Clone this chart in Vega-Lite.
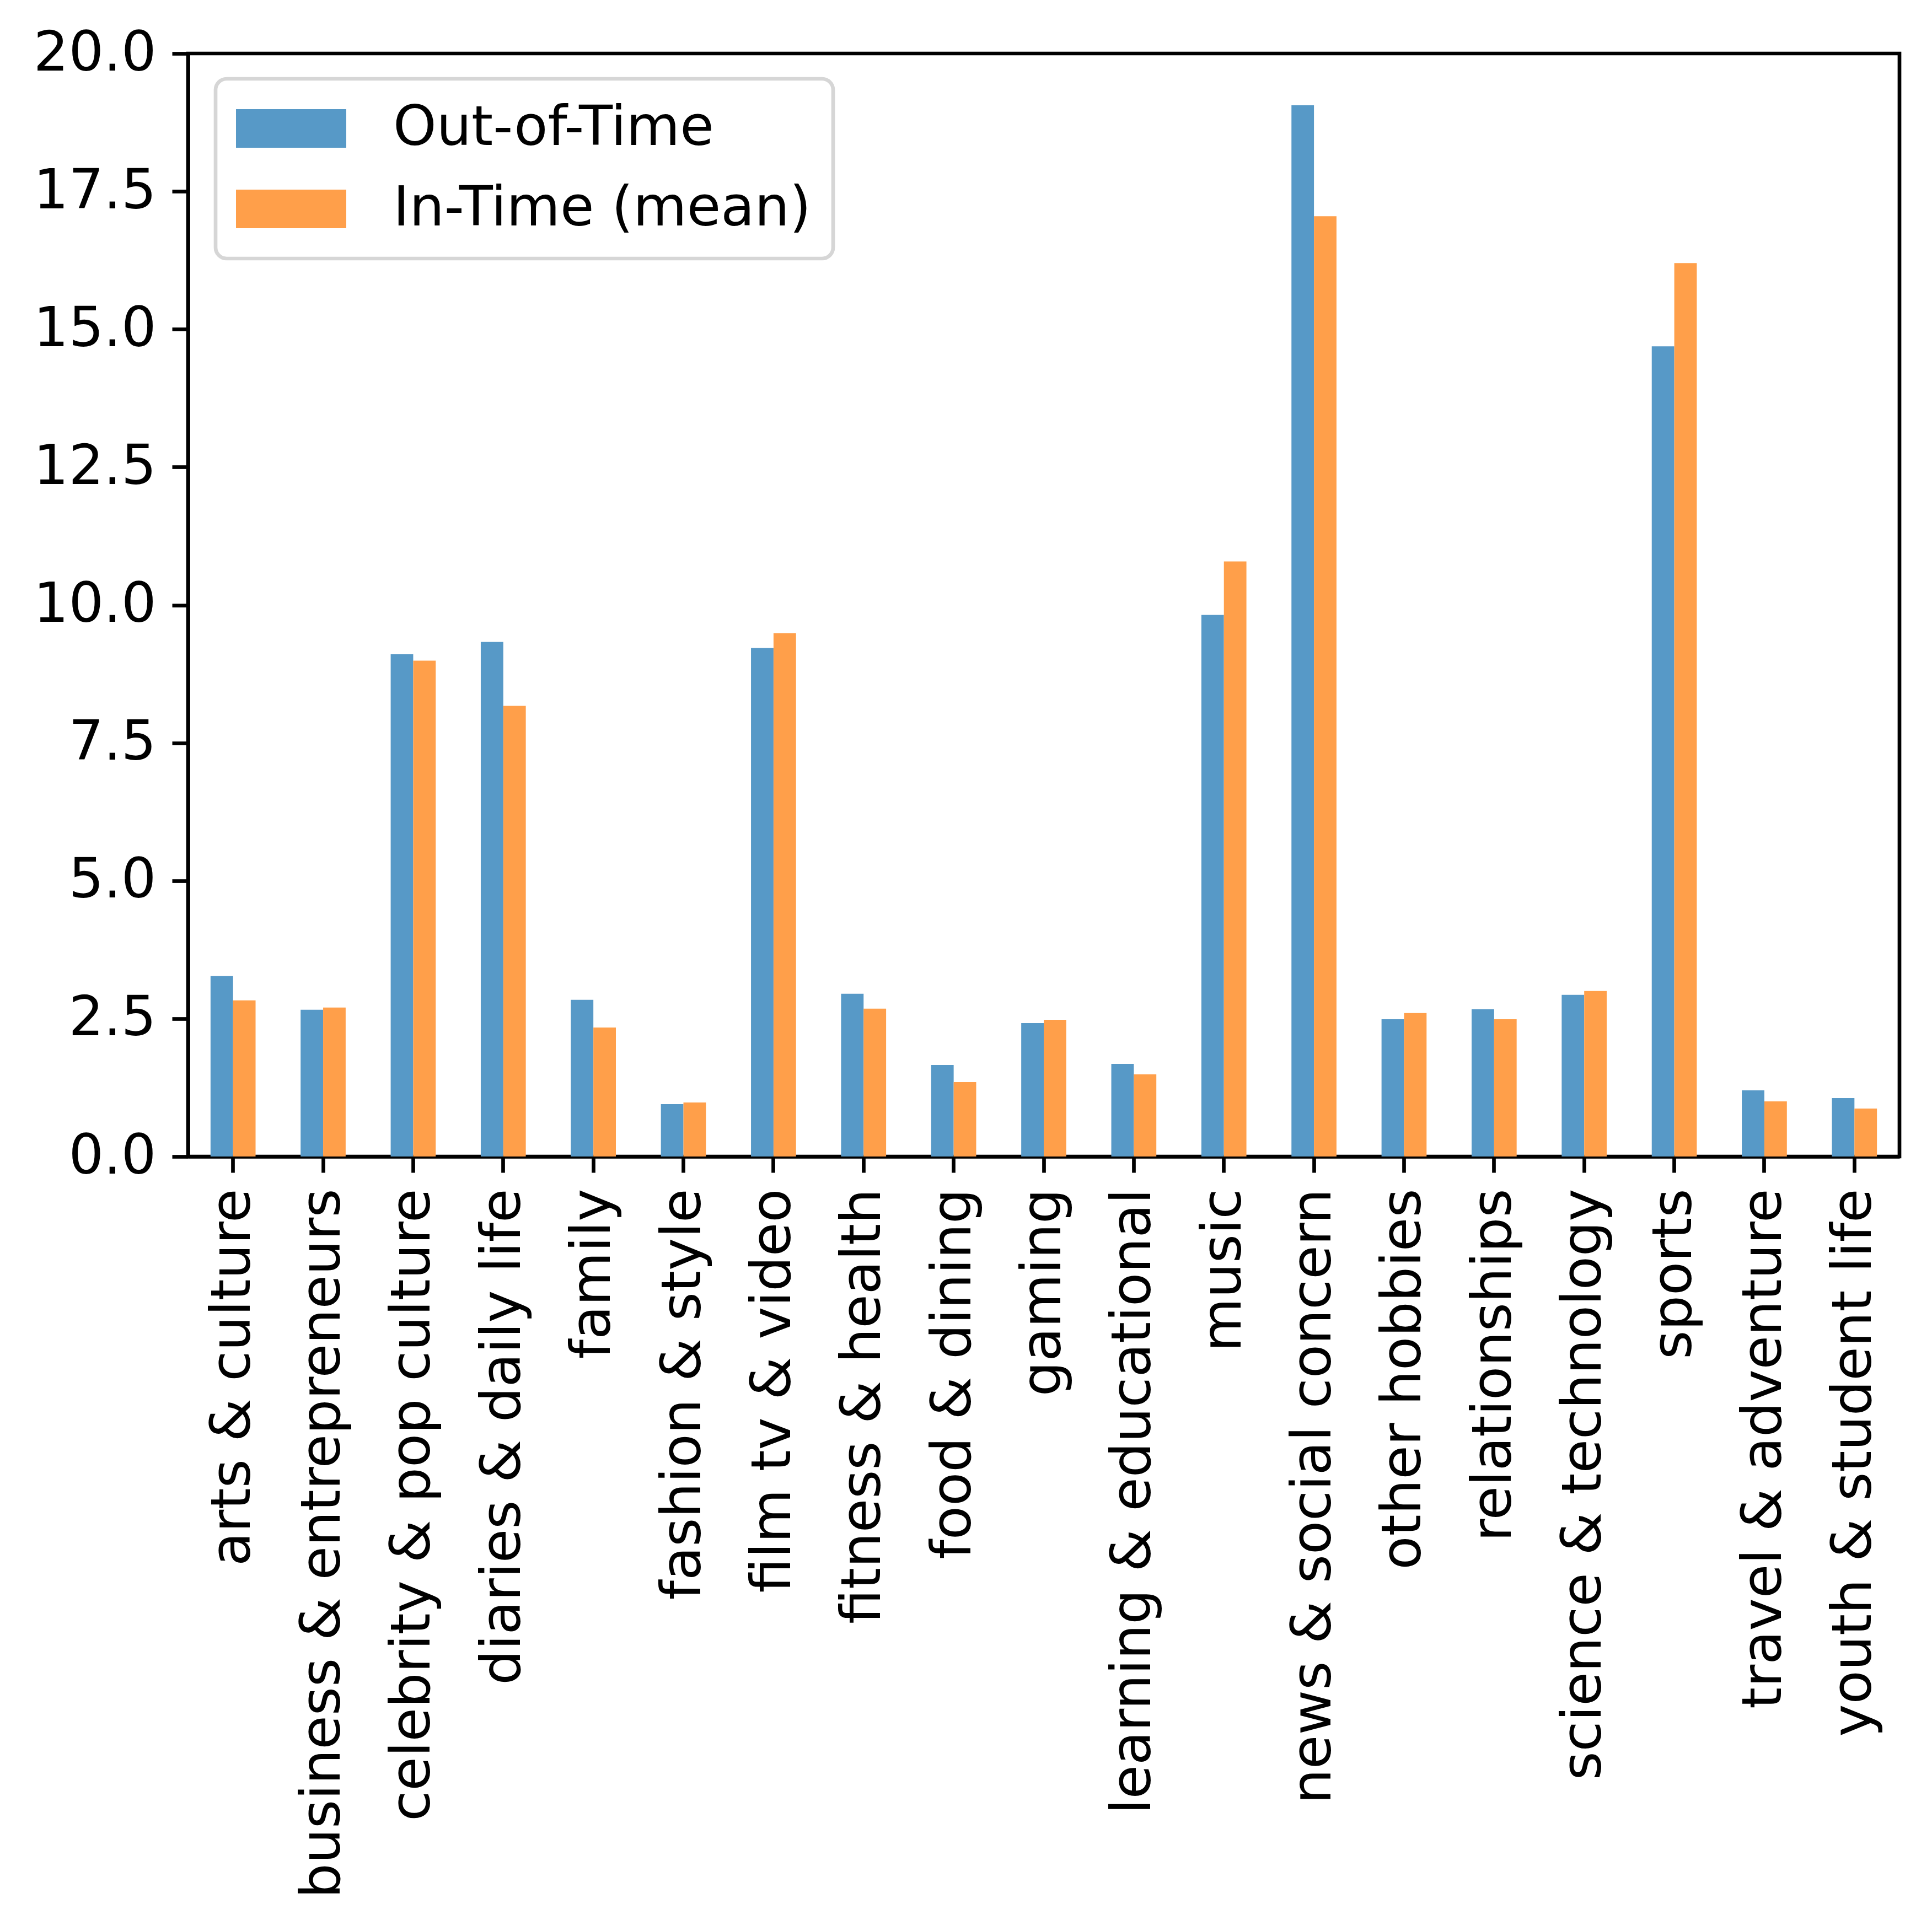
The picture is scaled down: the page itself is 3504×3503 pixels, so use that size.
{
  "$schema": "https://vega.github.io/schema/vega-lite/v6.json",
  "autosize": "none",
  "width": 3104,
  "height": 2001,
  "padding": {"left": 341, "top": 97, "right": 59, "bottom": 1405},
  "background": "white",
  "config": {
    "font": "DejaVu Sans",
    "view": {"stroke": "black", "strokeWidth": 6.7},
    "axis": {
      "domainColor": "black",
      "domainWidth": 6.7,
      "tickColor": "black",
      "tickWidth": 6.7,
      "tickSize": 29,
      "labelPadding": 29,
      "labelFont": "DejaVu Sans",
      "labelFontSize": 100,
      "labelColor": "black",
      "labelLimit": 3000,
      "grid": false,
      "title": null
    }
  },
  "data": {
    "values": [
      {"category": "arts & culture", "series": "Out-of-Time", "value": 3.27},
      {"category": "arts & culture", "series": "In-Time (mean)", "value": 2.83},
      {"category": "business & entrepreneurs", "series": "Out-of-Time", "value": 2.66},
      {"category": "business & entrepreneurs", "series": "In-Time (mean)", "value": 2.70},
      {"category": "celebrity & pop culture", "series": "Out-of-Time", "value": 9.11},
      {"category": "celebrity & pop culture", "series": "In-Time (mean)", "value": 8.99},
      {"category": "diaries & daily life", "series": "Out-of-Time", "value": 9.33},
      {"category": "diaries & daily life", "series": "In-Time (mean)", "value": 8.17},
      {"category": "family", "series": "Out-of-Time", "value": 2.84},
      {"category": "family", "series": "In-Time (mean)", "value": 2.34},
      {"category": "fashion & style", "series": "Out-of-Time", "value": 0.95},
      {"category": "fashion & style", "series": "In-Time (mean)", "value": 0.98},
      {"category": "film tv & video", "series": "Out-of-Time", "value": 9.22},
      {"category": "film tv & video", "series": "In-Time (mean)", "value": 9.49},
      {"category": "fitness & health", "series": "Out-of-Time", "value": 2.95},
      {"category": "fitness & health", "series": "In-Time (mean)", "value": 2.68},
      {"category": "food & dining", "series": "Out-of-Time", "value": 1.66},
      {"category": "food & dining", "series": "In-Time (mean)", "value": 1.35},
      {"category": "gaming", "series": "Out-of-Time", "value": 2.42},
      {"category": "gaming", "series": "In-Time (mean)", "value": 2.48},
      {"category": "learning & educational", "series": "Out-of-Time", "value": 1.68},
      {"category": "learning & educational", "series": "In-Time (mean)", "value": 1.49},
      {"category": "music", "series": "Out-of-Time", "value": 9.82},
      {"category": "music", "series": "In-Time (mean)", "value": 10.79},
      {"category": "news & social concern", "series": "Out-of-Time", "value": 19.06},
      {"category": "news & social concern", "series": "In-Time (mean)", "value": 17.05},
      {"category": "other hobbies", "series": "Out-of-Time", "value": 2.49},
      {"category": "other hobbies", "series": "In-Time (mean)", "value": 2.60},
      {"category": "relationships", "series": "Out-of-Time", "value": 2.67},
      {"category": "relationships", "series": "In-Time (mean)", "value": 2.49},
      {"category": "science & technology", "series": "Out-of-Time", "value": 2.93},
      {"category": "science & technology", "series": "In-Time (mean)", "value": 3.00},
      {"category": "sports", "series": "Out-of-Time", "value": 14.69},
      {"category": "sports", "series": "In-Time (mean)", "value": 16.20},
      {"category": "travel & adventure", "series": "Out-of-Time", "value": 1.20},
      {"category": "travel & adventure", "series": "In-Time (mean)", "value": 1.00},
      {"category": "youth & student life", "series": "Out-of-Time", "value": 1.06},
      {"category": "youth & student life", "series": "In-Time (mean)", "value": 0.87}
    ]
  },
  "mark": {"type": "bar"},
  "encoding": {
    "x": {
      "field": "category",
      "type": "nominal",
      "sort": null,
      "scale": {"paddingInner": 0.5, "paddingOuter": 0.25},
      "axis": {"labelAngle": -90, "labelOverlap": false}
    },
    "xOffset": {
      "field": "series",
      "type": "nominal",
      "sort": ["Out-of-Time", "In-Time (mean)"],
      "scale": {"domain": ["Out-of-Time", "In-Time (mean)"], "paddingInner": 0, "paddingOuter": 0}
    },
    "y": {
      "field": "value",
      "type": "quantitative",
      "scale": {"domain": [0, 20], "nice": false, "zero": true},
      "axis": {"values": [0, 2.5, 5, 7.5, 10, 12.5, 15, 17.5, 20], "format": ".1f"}
    },
    "color": {
      "field": "series",
      "type": "nominal",
      "scale": {"domain": ["Out-of-Time", "In-Time (mean)"], "range": ["#5799c7", "#ff9f4a"]},
      "legend": {
        "title": null,
        "orient": "none",
        "legendX": 50,
        "legendY": 46,
        "padding": 40,
        "rowPadding": 46,
        "labelFont": "DejaVu Sans",
        "labelFontSize": 100,
        "labelColor": "black",
        "labelOffset": 135,
        "labelLimit": 3000,
        "symbolType": "M-2.857,-1L2.857,-1L2.857,1L-2.857,1Z",
        "symbolSize": 4900,
        "symbolOffset": 47,
        "symbolStrokeWidth": 0,
        "symbolOpacity": 1,
        "strokeColor": "#d6d6d6",
        "fillColor": "white",
        "cornerRadius": 20,
        "encode": {
          "legend": {"update": {"strokeWidth": {"value": 6.7}}}
        }
      }
    }
  }
}
